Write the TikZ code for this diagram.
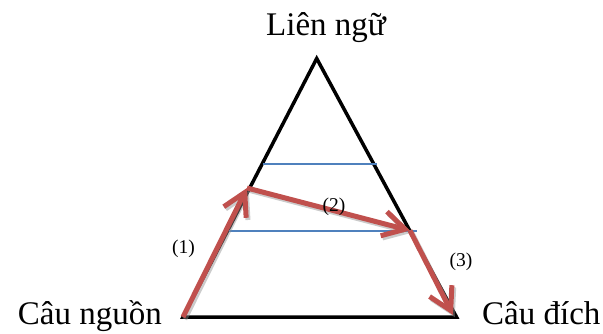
\documentclass[tikz,border=0pt]{standalone}
\usepackage{fontspec}
\setmainfont{Liberation Serif}
\usetikzlibrary{arrows.meta}
\definecolor{arrowred}{HTML}{C0504D}
\definecolor{levelblue}{HTML}{4F81BD}
\begin{document}
\begin{tikzpicture}[x=1pt,y=-1pt,
  side/.style={draw=black, line width=3.5pt, line join=miter},
  level/.style={draw=levelblue, line width=1.6pt},
  flow/.style={draw=arrowred, line width=5pt,
    -{Straight Barb[length=22pt,width=25pt,line width=5pt]},
    preaction={draw=black!45, opacity=0.45, line width=5pt,
      transform canvas={shift={(1.8pt,-2.2pt)}}}},
  bigtext/.style={font=\fontsize{33}{36}\selectfont, inner sep=0pt},
  numtext/.style={font=\fontsize{19.5}{22}\selectfont, inner sep=0pt, anchor=base}
]
\useasboundingbox (0,0) rectangle (603,333);
% corners and points
\coordinate (apex) at (316.7,58.5);
\coordinate (bl) at (183,317);
\coordinate (br) at (456.5,317);
\coordinate (p) at (247,188);
\coordinate (q) at (410,230.5);
\coordinate (e) at (453,315);
\coordinate (b1l) at (263,164);
\coordinate (b1r) at (377,164);
\coordinate (b2l) at (229,230.7);
\coordinate (b2r) at (417,230.7);
% triangle
\draw[side] (bl) -- (apex) -- (br) -- cycle;
% levels
\draw[level] (b1l) -- (b1r);
\draw[level] (b2l) -- (b2r);
% arrows
\draw[flow] (bl) -- (p);
\draw[flow] (p) -- (q);
\draw[flow] (q) -- (e);
% labels
\node[bigtext, anchor=base] (top) at (326,35) {Liên ngữ};
\node[bigtext, anchor=base east] (src) at (162,324) {Câu nguồn};
\node[bigtext, anchor=base west] (tgt) at (482,324) {Câu đích};
\node[numtext] (n1) at (183.5,253) {(1)};
\node[numtext] (n2) at (334,211) {(2)};
\node[numtext] (n3) at (461,266) {(3)};
\end{tikzpicture}
\end{document}
